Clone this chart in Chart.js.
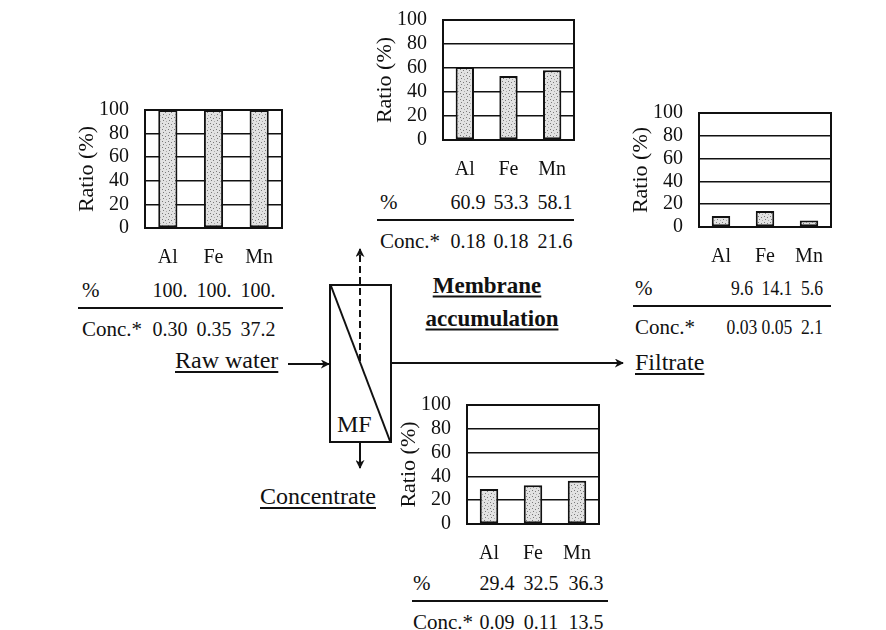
<!DOCTYPE html>
<html>
<head>
<meta charset="utf-8">
<script src="https://cdn.jsdelivr.net/npm/chart.js@4.4.1/dist/chart.umd.min.js"></script>
<style>
  body { margin: 0; background: #fff; }
  #page { position: relative; width: 886px; height: 630px; overflow: hidden; font-family: "Liberation Serif", "Times New Roman", serif; color: #111; }
  canvas { position: absolute; }
  .t { position: absolute; white-space: nowrap; line-height: 1; transform: translateY(-50%); }
  .c { transform: translate(-50%, -50%); }
  .u { text-decoration: underline; text-decoration-thickness: 1.5px; text-underline-offset: 3px; }
  .rule { position: absolute; height: 0; border-top: 2px solid #111; }
  svg { position: absolute; left: 0; top: 0; }
</style>
</head>
<body>
<div id="page">
  <svg width="886" height="630" id="flow">
    <defs>
      <marker id="head" viewBox="0 0 10 10" refX="9" refY="5" markerWidth="9" markerHeight="9" markerUnits="userSpaceOnUse" orient="auto">
        <path d="M0,0 L10,5 L0,10 L3,5 z" fill="#111"/>
      </marker>
    </defs>
    <rect x="330" y="285" width="61" height="157" fill="none" stroke="#111" stroke-width="2"/>
    <line x1="331" y1="286" x2="390" y2="441" stroke="#111" stroke-width="2"/>
    <line x1="360" y1="361" x2="360" y2="249" stroke="#111" stroke-width="2" stroke-dasharray="7,4" marker-end="url(#head)"/>
    <line x1="360" y1="442" x2="360" y2="468" stroke="#111" stroke-width="2" marker-end="url(#head)"/>
    <line x1="288" y1="364" x2="329" y2="364" stroke="#111" stroke-width="2" marker-end="url(#head)"/>
    <line x1="391" y1="363" x2="623" y2="363" stroke="#111" stroke-width="2" marker-end="url(#head)"/>
  </svg>
  <canvas id="rawChart"></canvas>
  <canvas id="membraneChart"></canvas>
  <canvas id="filtrateChart"></canvas>
  <canvas id="concentrateChart"></canvas>
  <div class="t u" style="left:175px;top:360px;font-size:24px">Raw water</div>
  <div class="t u" style="left:635px;top:362px;font-size:24px">Filtrate</div>
  <div class="t u" style="left:260px;top:496px;font-size:24px">Concentrate</div>
  <div class="t" style="left:337px;top:424px;font-size:24px">MF</div>
  <div class="t c u" style="left:487px;top:285px;font-size:23px;font-weight:bold">Membrane</div>
  <div class="t c u" style="left:492px;top:318px;font-size:23px;font-weight:bold">accumulation</div>
</div>
<script>
const categories = ["Al", "Fe", "Mn"];
const yTicks = [0, 20, 40, 60, 80, 100];

const rawRatio = [100, 100, 100];
const rawConc = [0.30, 0.35, 37.2];

const membraneRatio = [60.9, 53.3, 58.1];
const membraneConc = [0.18, 0.18, 21.6];

const filtrateRatio = [9.6, 14.1, 5.6];
const filtrateConc = [0.03, 0.05, 2.1];

const concentrateRatio = [29.4, 32.5, 36.3];
const concentrateConc = [0.09, 0.11, 13.5];

// where each small panel sits on the page
const panels = [
  { id: "rawChart", ratio: rawRatio, conc: rawConc,
    plot: { l: 145, t: 110, r: 282, b: 228 },
    table: { x: 82, y: 290, cols: [170, 214, 258], lineL: 78, lineR: 283, squeeze: 1 } },
  { id: "membraneChart", ratio: membraneRatio, conc: membraneConc,
    plot: { l: 443, t: 20, r: 574, b: 140 },
    table: { x: 380, y: 202, cols: [468, 511, 555], lineL: 377, lineR: 574, squeeze: 1 } },
  { id: "filtrateChart", ratio: filtrateRatio, conc: filtrateConc,
    plot: { l: 699, t: 113, r: 831, b: 227 },
    table: { x: 635, y: 288, cols: [742, 777, 812], lineL: 633, lineR: 831, squeeze: 0.88 } },
  { id: "concentrateChart", ratio: concentrateRatio, conc: concentrateConc,
    plot: { l: 467, t: 405, r: 599, b: 524 },
    table: { x: 413, y: 583, cols: [497, 541, 586], lineL: 412, lineR: 608, squeeze: 1 } }
];

const AXIS_W = 74, AXIS_H = 38, PAD_T = 30, PAD_R = 6;
const FONT = "'Liberation Serif', 'Times New Roman', serif";

function stipple() {
  const c = document.createElement("canvas");
  c.width = 6; c.height = 6;
  const g = c.getContext("2d");
  g.fillStyle = "#e2e2e2";
  g.fillRect(0, 0, 6, 6);
  g.fillStyle = "#7a7a7a";
  g.fillRect(1, 1, 1, 1);
  g.fillRect(4, 2, 1, 1);
  g.fillRect(2, 4, 1, 1);
  g.fillStyle = "#aaa";
  g.fillRect(5, 5, 1, 1);
  return g.createPattern(c, "repeat");
}
const fill = stipple();

const framePlugin = {
  id: "frame",
  afterDraw(chart) {
    const a = chart.chartArea, ctx = chart.ctx;
    ctx.save();
    ctx.strokeStyle = "#111";
    ctx.lineWidth = 2;
    ctx.strokeRect(a.left, a.top, a.right - a.left, a.bottom - a.top);
    ctx.restore();
  }
};

function pctText(v) { return v >= 100 ? "100." : v.toFixed(1); }
function concText(v) { return v < 1 ? v.toFixed(2) : v.toFixed(1); }

function addText(txt, x, y, size, squeeze) {
  const d = document.createElement("div");
  d.className = "t";
  d.style.left = x + "px";
  d.style.top = y + "px";
  d.style.fontSize = size + "px";
  if (squeeze) d.style.transform = "translate(-50%, -50%) scaleX(" + squeeze + ")";
  d.textContent = txt;
  document.getElementById("page").appendChild(d);
}

panels.forEach(p => {
  const cv = document.getElementById(p.id);
  const w = p.plot.r - p.plot.l + AXIS_W + PAD_R;
  const h = p.plot.b - p.plot.t + PAD_T + AXIS_H;
  cv.style.left = (p.plot.l - AXIS_W) + "px";
  cv.style.top = (p.plot.t - PAD_T) + "px";
  cv.style.width = w + "px";
  cv.style.height = h + "px";
  cv.width = w; cv.height = h;

  new Chart(cv, {
    type: "bar",
    data: {
      labels: categories,
      datasets: [{
        data: p.ratio,
        backgroundColor: fill,
        borderColor: "#111",
        borderWidth: 2,
        borderSkipped: false,
        barPercentage: 0.42,
        categoryPercentage: 1
      }]
    },
    options: {
      responsive: false,
      animation: false,
      layout: { padding: { top: PAD_T, right: PAD_R, left: 0, bottom: 0 } },
      plugins: { legend: { display: false }, tooltip: { enabled: false } },
      scales: {
        x: {
          grid: { display: false },
          border: { display: false },
          ticks: { color: "#111", padding: 10, font: { family: FONT, size: 20 } },
          afterFit(s) { s.height = AXIS_H; }
        },
        y: {
          min: 0, max: 100,
          afterBuildTicks(s) { s.ticks = yTicks.map(v => ({ value: v })); },
          grid: { color: "#111", lineWidth: 1.5, drawTicks: false },
          border: { display: false },
          ticks: { color: "#111", padding: 16, autoSkip: false, font: { family: FONT, size: 20 } },
          title: { display: true, text: "Ratio (%)", color: "#111", padding: { top: 3, bottom: 0 }, font: { family: FONT, size: 22 } },
          afterFit(s) { s.width = AXIS_W; }
        }
      }
    },
    plugins: [framePlugin]
  });

  // small table below each panel
  const t = p.table;
  addText("%", t.x, t.y, 21);
  addText("Conc.*", t.x, t.y + 39, 21);
  p.ratio.forEach((v, i) => addText(pctText(v), t.cols[i], t.y, 20, t.squeeze));
  p.conc.forEach((v, i) => addText(concText(v), t.cols[i], t.y + 39, 20, t.squeeze));
  const rule = document.createElement("div");
  rule.className = "rule";
  rule.style.left = t.lineL + "px";
  rule.style.width = (t.lineR - t.lineL) + "px";
  rule.style.top = (t.y + 17) + "px";
  document.getElementById("page").appendChild(rule);
});
</script>
</body>
</html>
